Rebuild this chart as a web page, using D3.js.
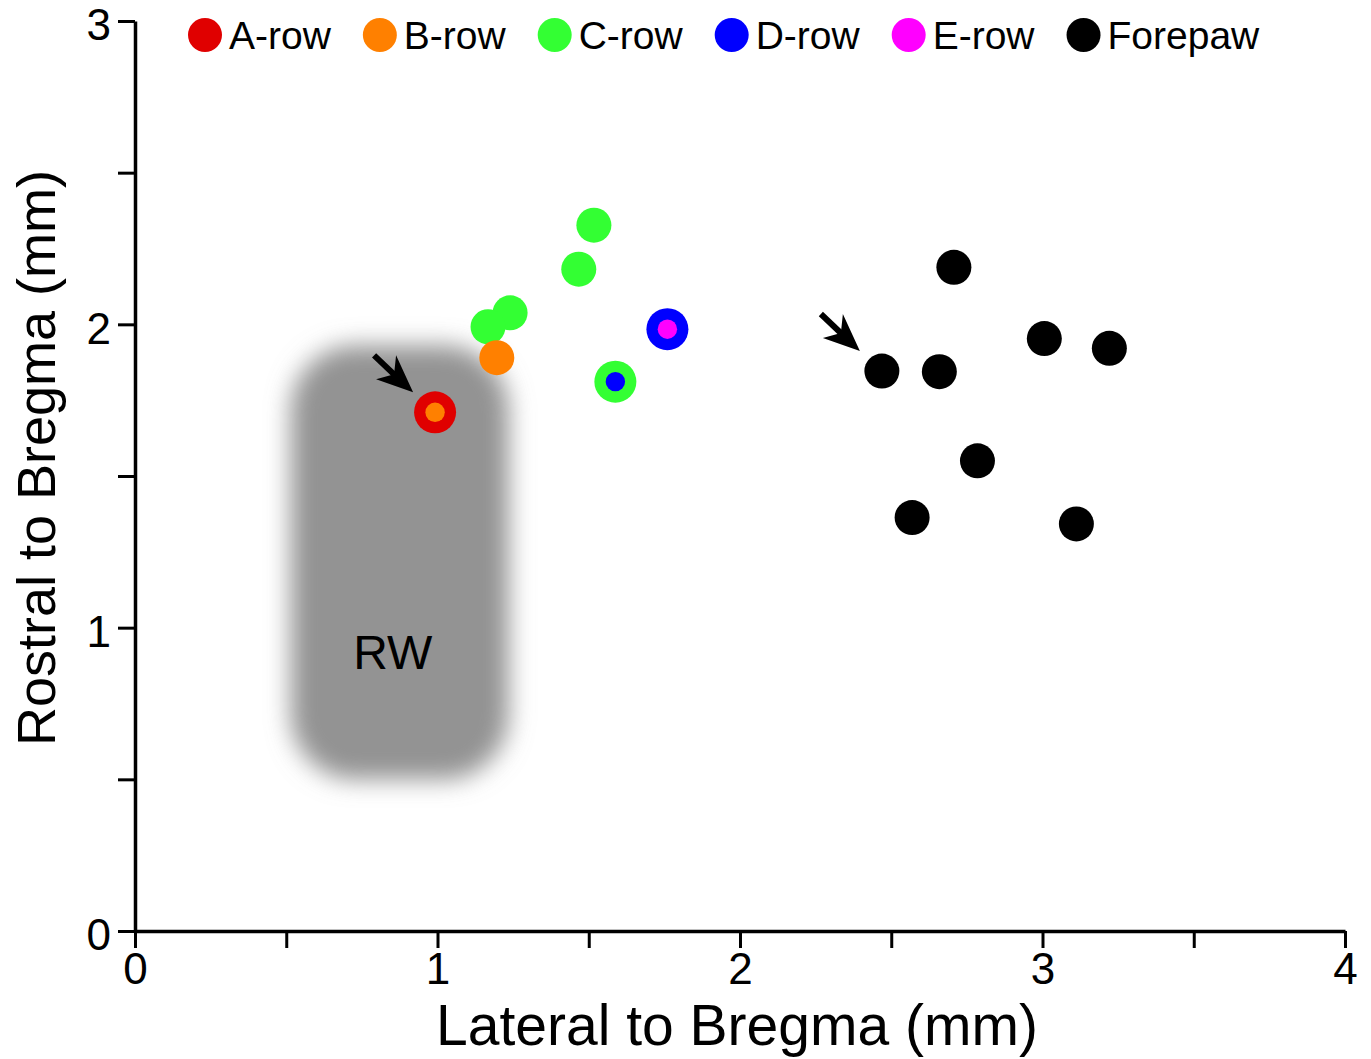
<!DOCTYPE html>
<html>
<head>
<meta charset="utf-8">
<script src="https://cdn.jsdelivr.net/npm/d3@7/dist/d3.min.js"></script>
<style>
  body { margin: 0; background: #fff; }
  text { font-family: "Liberation Sans", Arial, sans-serif; fill: #000; }
</style>
</head>
<body>
<div id="corpo"></div>
<script>
// legend rows + colours
var rows = ["A-row", "B-row", "C-row", "D-row", "E-row", "Forepaw"];
var rowColors = ["#e00000", "#ff8000", "#33ff33", "#0000ff", "#ff00ff", "#000000"];

// single-row sites (mm)
var cRowX = [1.517, 1.467, 1.240, 1.167];
var cRowY = [2.327, 2.182, 2.038, 1.992];
var bRowX = [1.196];
var bRowY = [1.890];
var forepawX = [2.707, 3.006, 3.221, 2.469, 2.659, 2.785, 2.569, 3.112];
var forepawY = [2.188, 1.953, 1.921, 1.846, 1.844, 1.550, 1.363, 1.342];

// sites driven by two rows: outer ring / centre dot
var dualX = [0.992, 1.588, 1.760];
var dualY = [1.710, 1.811, 1.984];
var dualOuter = ["A-row", "C-row", "D-row"];
var dualInner = ["B-row", "D-row", "E-row"];

// arrows point to these sites
var arrowX = [0.992, 2.469];
var arrowY = [1.710, 1.846];

// RW zone (mm) and its label
var rwX = [0.515, 1.235];
var rwY = [0.50, 1.93];
var rwLabelX = 0.852, rwLabelY = 0.865;

// ticks
var xTicks = [0, 0.5, 1, 1.5, 2, 2.5, 3, 3.5, 4];
var yTicks = [0, 0.5, 1, 1.5, 2, 2.5, 3];

var margin = {top: 21, right: 26, bottom: 128, left: 135},
    width = 1371 - margin.left - margin.right,
    height = 1059 - margin.top - margin.bottom;

var color = d3.scaleOrdinal().domain(rows).range(rowColors);

var x = d3.scaleLinear().domain([0, 4]).range([0, width]);
var y = d3.scaleLinear().domain([0, 3]).range([height, 0]);

var svgRoot = d3.select("#corpo").append("svg")
    .attr("width", 1371)
    .attr("height", 1059)
    .style("display", "block");

var defs = svgRoot.append("defs");
defs.append("filter")
    .attr("id", "blur")
    .attr("x", "-30%").attr("y", "-30%")
    .attr("width", "160%").attr("height", "160%")
    .append("feGaussianBlur")
    .attr("stdDeviation", 12);

var svg = svgRoot.append("g")
    .attr("transform", "translate(" + margin.left + "," + margin.top + ")");

// RW zone
svg.append("rect")
    .attr("x", x(rwX[0]))
    .attr("y", y(rwY[1]))
    .attr("width", x(rwX[1]) - x(rwX[0]))
    .attr("height", y(rwY[0]) - y(rwY[1]))
    .attr("rx", 65)
    .attr("ry", 65)
    .style("fill", "#939393")
    .attr("filter", "url(#blur)");

svg.append("text")
    .attr("x", x(rwLabelX))
    .attr("y", y(rwLabelY))
    .attr("text-anchor", "middle")
    .style("font-size", "48px")
    .text("RW");

// axes
var xAxis = d3.axisBottom(x)
    .tickValues(xTicks)
    .tickSize(17)
    .tickSizeOuter(0)
    .tickPadding(5)
    .tickFormat(function(d) { return d % 1 === 0 ? d : ""; });

var yAxis = d3.axisLeft(y)
    .tickValues(yTicks)
    .tickSize(17)
    .tickSizeOuter(0)
    .tickPadding(7)
    .tickFormat(function(d) { return d % 1 === 0 ? d : ""; });

var gx = svg.append("g")
    .attr("transform", "translate(0," + height + ")")
    .call(xAxis);

var gy = svg.append("g")
    .call(yAxis);

[gx, gy].forEach(function(g) {
    g.select(".domain").style("stroke", "#000").style("stroke-width", 3.5);
    g.selectAll(".tick line").style("stroke", "#000").style("stroke-width", 3);
    g.selectAll(".tick text")
        .style("font-family", '"Liberation Sans", Arial, sans-serif')
        .style("font-size", "44px")
        .style("fill", "#000");
});
// y labels sit a bit under their ticks
gy.selectAll(".tick text").attr("dy", "0.43em");

// axis titles
svg.append("text")
    .attr("x", width / 2 - 3)
    .attr("y", height + 114)
    .attr("text-anchor", "middle")
    .style("font-size", "57px")
    .text("Lateral to Bregma (mm)");

svg.append("text")
    .attr("transform", "translate(" + (55 - margin.left) + "," + (height / 2 - 18) + ") rotate(-90)")
    .attr("text-anchor", "middle")
    .style("font-size", "54px")
    .text("Rostral to Bregma (mm)");

// points
var r = 17.5;

function single(xs, ys, row) {
    return xs.map(function(v, i) { return {x: v, y: ys[i], row: row}; });
}

var singles = single(cRowX, cRowY, "C-row")
    .concat(single(bRowX, bRowY, "B-row"))
    .concat(single(forepawX, forepawY, "Forepaw"));

svg.selectAll("circle.site")
    .data(singles)
    .enter().append("circle")
    .attr("class", "site")
    .attr("cx", function(d) { return x(d.x); })
    .attr("cy", function(d) { return y(d.y); })
    .attr("r", r)
    .style("fill", function(d) { return color(d.row); });

var duals = dualX.map(function(v, i) {
    return {x: v, y: dualY[i], outer: dualOuter[i], inner: dualInner[i]};
});

var dg = svg.selectAll("g.dual")
    .data(duals)
    .enter().append("g")
    .attr("class", "dual")
    .attr("transform", function(d) { return "translate(" + x(d.x) + "," + y(d.y) + ")"; });

dg.append("circle")
    .attr("r", 21)
    .style("fill", function(d) { return color(d.outer); });

dg.append("circle")
    .attr("r", 9.7)
    .style("fill", function(d) { return color(d.inner); });

// arrows
var arrows = arrowX.map(function(v, i) { return {x: v, y: arrowY[i]}; });

var ag = svg.selectAll("g.arrow")
    .data(arrows)
    .enter().append("g")
    .attr("class", "arrow")
    .attr("transform", function(d) {
        return "translate(" + (x(d.x) - 22) + "," + (y(d.y) - 20) + ")";
    });

ag.append("line")
    .attr("x1", -39).attr("y1", -37)
    .attr("x2", -18).attr("y2", -17)
    .style("stroke", "#000")
    .style("stroke-width", 6);

ag.append("path")
    .attr("d", "M0,0 L-37,-13 L-19,-18 L-17,-37 Z")
    .style("fill", "#000");

// LEGENDA
var legend = svgRoot.append("g").attr("class", "legend");
var cx = 205;
rows.forEach(function(row) {
    legend.append("circle")
        .attr("cx", cx)
        .attr("cy", 35)
        .attr("r", 17)
        .style("fill", color(row));
    var t = legend.append("text")
        .attr("x", cx + 24)
        .attr("y", 49)
        .style("font-size", "39px")
        .text(row);
    cx = cx + 24 + t.node().getComputedTextLength() + 49;
});
</script>
</body>
</html>
